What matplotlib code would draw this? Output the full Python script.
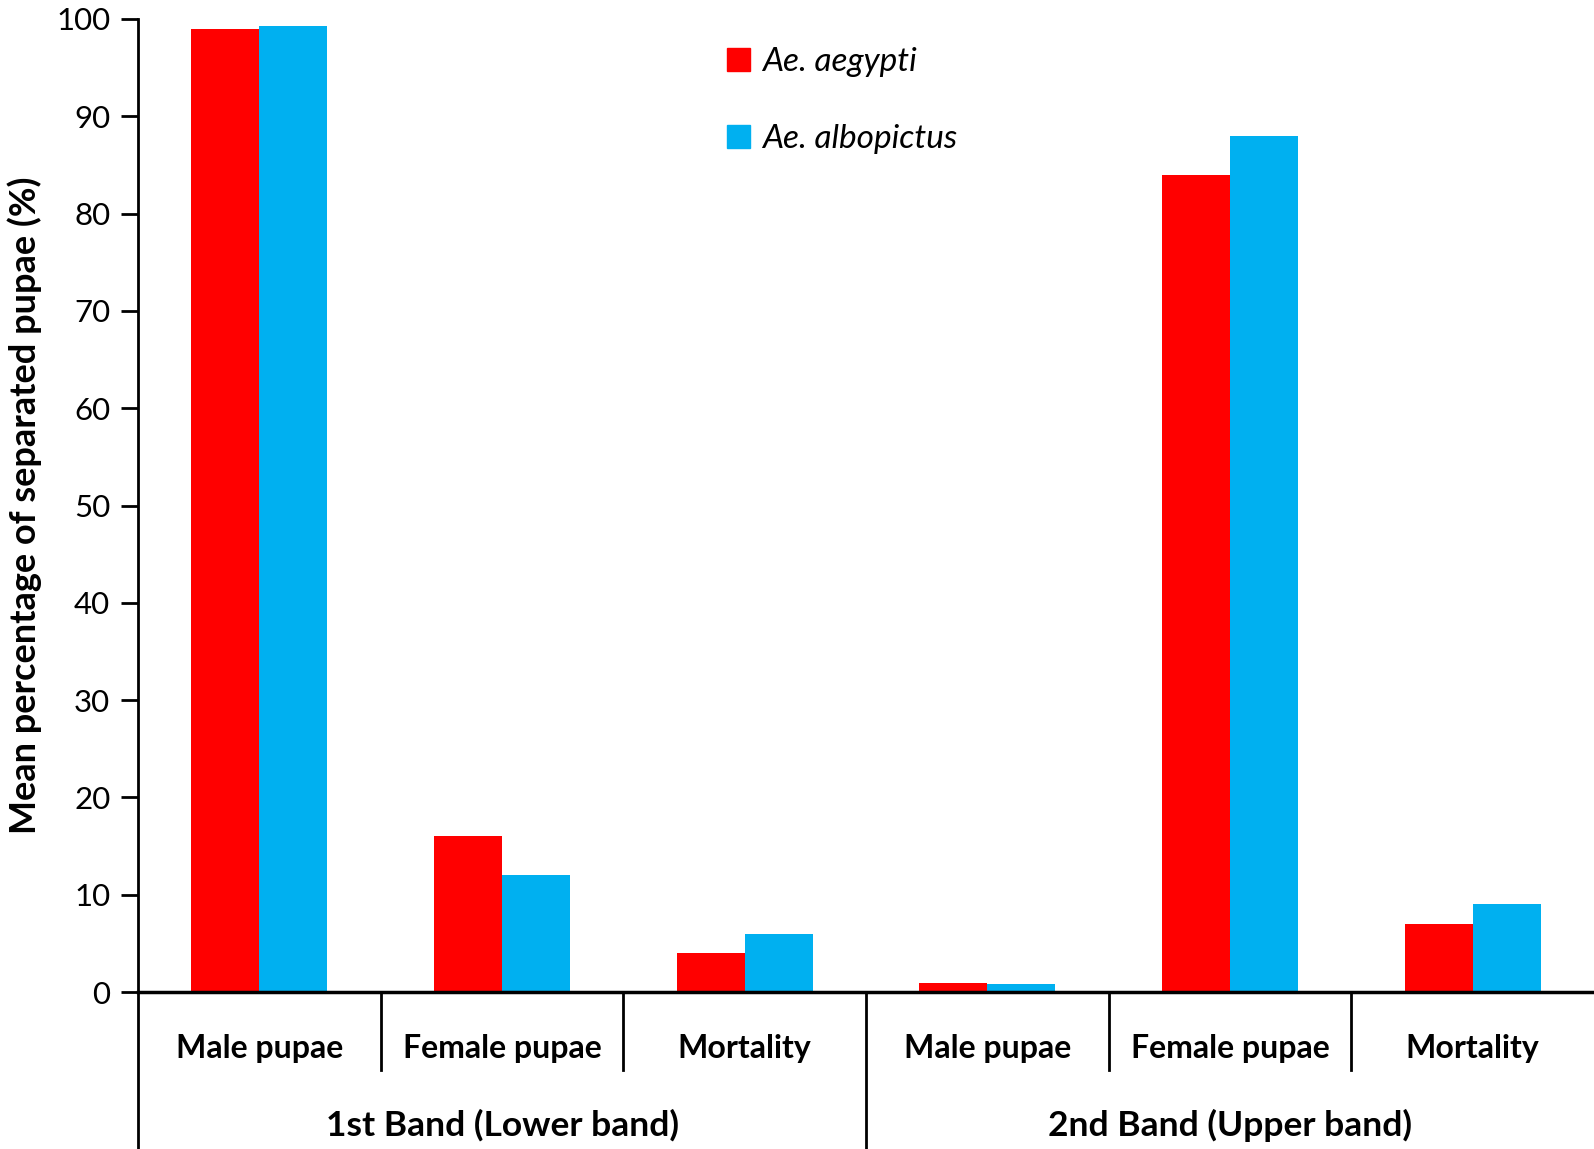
import matplotlib
matplotlib.use("Agg")
import matplotlib.pyplot as plt
from matplotlib.patches import Patch

plt.rcParams['font.family'] = ['Lato', 'DejaVu Sans']

categories = ["Male pupae", "Female pupae", "Mortality", "Male pupae", "Female pupae", "Mortality"]
bands = ["1st Band (Lower band)", "2nd Band (Upper band)"]
aegypti = [99.0, 16.0, 4.0, 0.9, 84.0, 7.0]
albopictus = [99.3, 12.0, 6.0, 0.8, 88.0, 9.0]
series_names = ["Ae. aegypti", "Ae. albopictus"]
colors = ["#FF0000", "#00B0F0"]

fig = plt.figure(figsize=(15.94, 11.49), dpi=100)
ax = fig.add_axes([0.0866, 0.1366, 0.9134, 0.8469])

x = list(range(len(categories)))
w = 0.28
ax.bar([i - w / 2 for i in x], aegypti, width=w, color=colors[0], label=series_names[0])
ax.bar([i + w / 2 for i in x], albopictus, width=w, color=colors[1], label=series_names[1])

ax.set_xlim(-0.5, len(categories) - 0.5)
ax.set_ylim(0, 100)
ax.set_yticks(range(0, 101, 10))
ax.tick_params(axis='y', labelsize=22.5, length=12, width=2, direction='out', pad=8)
ax.set_xticks([])
for s in ['top', 'right']:
    ax.spines[s].set_visible(False)
ax.spines['left'].set_linewidth(2)
ax.spines['bottom'].set_linewidth(2.5)

ax.set_ylabel("Mean percentage of separated pupae (%)", fontsize=26, fontweight='bold', labelpad=10)

trans = ax.get_xaxis_transform()
# category labels and separators
for i, c in enumerate(categories):
    ax.text(i, -0.058, c, transform=trans, ha='center', va='center', fontsize=23, fontweight='bold')
for b in [0.5, 1.5, 3.5, 4.5]:
    ax.plot([b, b], [0, -0.08], transform=trans, color='black', lw=2, clip_on=False)
for b in [-0.5, 2.5]:
    ax.plot([b, b], [0, -0.2], transform=trans, color='black', lw=2, clip_on=False)
for j, bl in enumerate(bands):
    ax.text(1 + 3 * j, -0.137, bl, transform=trans, ha='center', va='center', fontsize=25.5, fontweight='bold')

handles = [Patch(color=colors[0]), Patch(color=colors[1])]
leg = ax.legend(handles, series_names, loc='upper left', bbox_to_anchor=(0.384, 1.002), frameon=False,
                handlelength=0.7, handleheight=0.7, labelspacing=1.42, handletextpad=0.35,
                prop={'size': 24, 'style': 'italic'})

fig.savefig("out.png", dpi=100)
